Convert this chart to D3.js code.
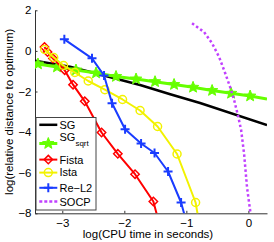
<!DOCTYPE html>
<html><head><meta charset="utf-8">
<script src="https://cdn.jsdelivr.net/npm/d3@7"></script>
<style>
html,body{margin:0;padding:0;background:#fff;}
svg{display:block;font-family:"Liberation Sans",Arial,Helvetica,sans-serif;}
</style></head>
<body><svg id="c" width="274" height="242"></svg>
<script>
// ---- data (log10 values) ----
const xTicks = [-3, -2, -1, 0];
const yTicks = [-8, -6, -4, -2, 0, 2];
const xLabel = "log(CPU time in seconds)";
const yLabel = "log(relative distance to optimum)";

const sgX = [-3.44, -2.875, -2.392, -1.746, -1.26, -0.779, 0.30];
const sgY = [-0.483, -0.778, -1.163, -1.680, -2.138, -2.567, -3.650];

const sgsqrtX = [-3.44, -3.392, -3.085, -2.779, -2.456, -2.134, -1.811, -1.505, -1.198, -0.892, -0.585, -0.279, 0.028, 0.30];
const sgsqrtY = [-0.596, -0.645, -0.793, -0.941, -1.089, -1.261, -1.384, -1.517, -1.655, -1.793, -1.951, -2.089, -2.222, -2.369];

const fistaX = [-3.287, -3.238, -3.150, -2.961, -2.827, -2.638, -2.367, -2.105, -1.827, -1.532, -1.448];
const fistaY = [0.192, -0.054, -0.374, -0.951, -1.665, -2.483, -4.020, -5.069, -6.074, -7.419, -8.379];

const istaX = [-3.284, -3.138, -2.980, -2.798, -2.582, -2.314, -2.029, -1.746, -1.464, -1.150, -0.851, -0.819];
const istaY = [0.069, -0.325, -0.719, -1.064, -1.483, -1.911, -2.394, -2.936, -3.724, -5.079, -7.468, -8.034];

const rel2X = [-2.967, -2.521, -2.327, -2.198, -1.988, -1.730, -1.513, -1.295, -1.085, -1.021];
const rel2Y = [0.571, -0.365, -1.212, -2.581, -3.862, -4.562, -5.030, -5.941, -7.468, -8.182];

const socpX = [-0.908, -0.714, -0.585, -0.472, -0.375, -0.295, -0.230, -0.166, -0.117, -0.069, -0.021, 0.036];
const socpY = [1.360, 0.931, 0.374, -0.300, -1.089, -1.778, -2.419, -3.207, -3.897, -5.079, -6.754, -8.034];

const seriesNames = ["SG", "SG", "Fista", "Ista", "Re\u2212L2", "SOCP"];
const seriesColors = ["#000000", "#66ff00", "#ff0000", "#f2f200", "#1a3cff", "#c040ff"];

// ---- layout ----
const svg = d3.select("#c");
const L = 35, R = 267, T = 10.3, B = 213.3;
const x = d3.scaleLinear().domain([-3.44, 0.30]).range([L, R]);
const y = d3.scaleLinear().domain([-8, 2]).range([B, T]);
const axisColor = "#333";
const fs = 11.5;

svg.append("defs").append("clipPath").attr("id", "clip")
  .append("rect").attr("x", L).attr("y", T).attr("width", R - L).attr("height", B - T);

// axes
const fmt = d => d < 0 ? "\u2212" + Math.abs(d) : String(d);
const gx = svg.append("g").attr("transform", `translate(0,${B})`)
  .call(d3.axisBottom(x).tickValues(xTicks).tickFormat(fmt).tickSizeInner(-2.5).tickSizeOuter(0).tickPadding(5.5));
const gy = svg.append("g").attr("transform", `translate(${L},0)`)
  .call(d3.axisLeft(y).tickValues(yTicks).tickFormat(fmt).tickSizeInner(-2.5).tickSizeOuter(0).tickPadding(3.5));
[gx, gy].forEach(g => {
  g.select(".domain").attr("stroke", axisColor).attr("stroke-width", 1);
  g.selectAll(".tick line").attr("stroke", axisColor);
  g.selectAll("text").attr("fill", "#000").attr("font-size", fs).attr("font-family", "Liberation Sans, Arial, sans-serif");
});

svg.append("text").attr("x", 148).attr("y", 237.5).attr("text-anchor", "middle")
  .attr("font-size", fs).text(xLabel);
svg.append("text").attr("transform", `translate(12.7,${(T + B) / 2}) rotate(-90)`)
  .attr("text-anchor", "middle").attr("font-size", fs).text(yLabel);

// marker shapes
function starPath(ro, ri) {
  let p = "";
  for (let i = 0; i < 10; i++) {
    const r = i % 2 ? ri : ro, a = -Math.PI / 2 + i * Math.PI / 5;
    p += (i ? "L" : "M") + (r * Math.cos(a)).toFixed(2) + "," + (r * Math.sin(a)).toFixed(2);
  }
  return p + "Z";
}
const shapes = {
  star: { d: starPath(6, 2.6), fill: true, sw: 1 },
  diamond: { d: "M0,-4.2L4.2,0L0,4.2L-4.2,0Z", fill: false, sw: 1.5 },
  circle: { d: "M4,0A4,4 0 1,1 -4,0A4,4 0 1,1 4,0Z", fill: false, sw: 1.5 },
  plus: { d: "M-4.5,0H4.5M0,-4.5V4.5", fill: false, sw: 2 }
};
function marker(g, px, py, shape, color) {
  const s = shapes[shape];
  g.append("path").attr("d", s.d).attr("transform", `translate(${px},${py})`)
    .attr("fill", s.fill ? color : "none").attr("stroke", color).attr("stroke-width", s.sw);
}

const plot = svg.append("g").attr("clip-path", "url(#clip)");
const line = d3.line().x(d => x(d[0])).y(d => y(d[1]));
const zip = (a, b) => a.map((v, i) => [v, b[i]]);

const series = [
  { xs: sgX, ys: sgY, c: seriesColors[0], w: 2.5, m: null },
  { xs: sgsqrtX, ys: sgsqrtY, c: seriesColors[1], w: 3, m: "star", inner: true },
  { xs: fistaX, ys: fistaY, c: seriesColors[2], w: 2, m: "diamond" },
  { xs: istaX, ys: istaY, c: seriesColors[3], w: 2, m: "circle", skipLast: true },
  { xs: rel2X, ys: rel2Y, c: seriesColors[4], w: 2, m: "plus", skipLast: true },
  { xs: socpX, ys: socpY, c: seriesColors[5], w: 2.5, m: null, dash: "2.5,2.5" }
];
series.forEach(s => {
  const pts = zip(s.xs, s.ys);
  plot.append("path").attr("d", line(pts)).attr("fill", "none").attr("stroke", s.c)
    .attr("stroke-width", s.w).attr("stroke-dasharray", s.dash || null).attr("stroke-linejoin", "round");
  if (s.m) {
    pts.forEach((p, i) => {
      if (s.inner && (i === 0 || i === pts.length - 1)) return;
      if (s.skipLast && i === pts.length - 1) return;
      marker(plot, x(p[0]), y(p[1]), s.m, s.c);
    });
  }
});

// legend
const lg = svg.append("g");
lg.append("rect").attr("x", 36).attr("y", 117.5).attr("width", 60).attr("height", 92.5)
  .attr("fill", "#fff").attr("stroke", "#444").attr("stroke-width", 1);
const legY = [124.8, 143.5, 159.6, 172.6, 187.8, 201.6];
const legBase = [128.5, 141.2, 163.5, 176.4, 191.7, 205.6];
const legMarks = [null, "star", "diamond", "circle", "plus", null];
seriesNames.forEach((n, i) => {
  const s = series[i];
  lg.append("line").attr("x1", 39.3).attr("x2", 57.3).attr("y1", legY[i]).attr("y2", legY[i])
    .attr("stroke", s.c).attr("stroke-width", s.w).attr("stroke-dasharray", i === 5 ? "3,2" : null);
  if (legMarks[i]) marker(lg, 48.3, legY[i], legMarks[i], s.c);
  const t = lg.append("text").attr("x", 59.5).attr("y", legBase[i]).attr("font-size", 11).text(n);
  if (i === 1) t.append("tspan").attr("font-size", 8).attr("dy", 4.5).text("sqrt");
});
</script></body></html>
